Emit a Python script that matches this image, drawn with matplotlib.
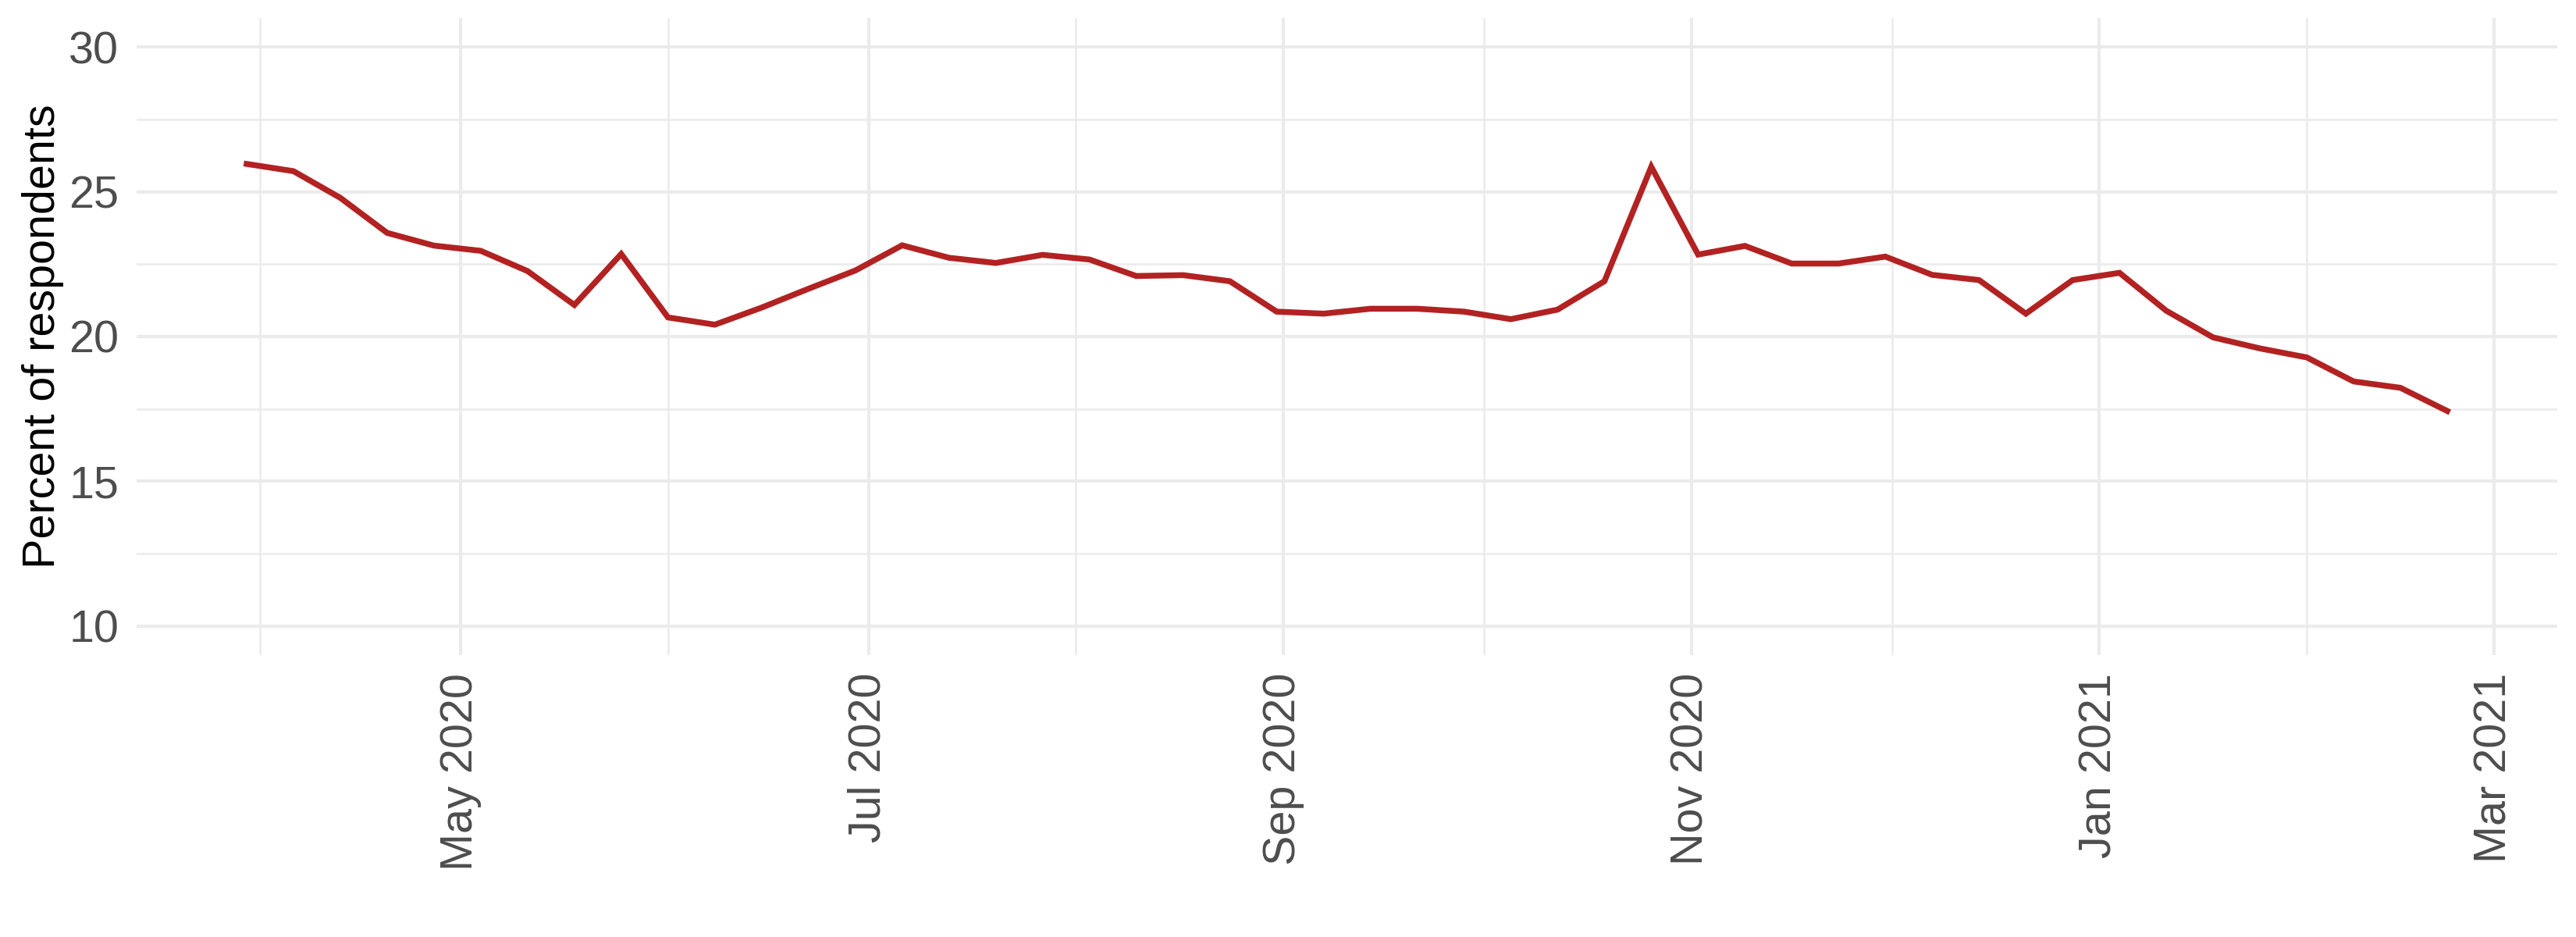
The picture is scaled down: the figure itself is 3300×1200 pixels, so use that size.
import matplotlib
matplotlib.use("Agg")
import matplotlib.pyplot as plt
import pandas as pd

# Weekly survey dates (Mondays) and values
start_date = "2020-03-30"
n_weeks = 48
values = [25.96, 25.71, 24.79, 23.58, 23.14, 22.96, 22.26, 21.09, 22.85, 20.66,
          20.41, 21.00, 21.65, 22.28, 23.15, 22.72, 22.54, 22.82, 22.66, 22.09,
          22.12, 21.91, 20.86, 20.79, 20.96, 20.96, 20.86, 20.60, 20.93, 21.91,
          25.86, 22.83, 23.13, 22.52, 22.52, 22.76, 22.13, 21.95, 20.79, 21.95,
          22.20, 20.89, 19.97, 19.59, 19.28, 18.45, 18.23, 17.43]
dates = pd.date_range(start_date, periods=n_weeks, freq="7D")

y_ticks = [10, 15, 20, 25, 30]
y_minor = [12.5, 17.5, 22.5, 27.5]
x_major = pd.to_datetime(["2020-05-01", "2020-07-01", "2020-09-01",
                          "2020-11-01", "2021-01-01", "2021-03-01"])
x_minor = pd.to_datetime(["2020-04-01", "2020-06-01", "2020-08-01",
                          "2020-10-01", "2020-12-01", "2021-02-01"])
x_labels = ["May 2020", "Jul 2020", "Sep 2020", "Nov 2020", "Jan 2021", "Mar 2021"]
y_label = "Percent of respondents"

plt.rcParams['font.family'] = ['Liberation Sans', 'DejaVu Sans']

W, H = 3300, 1200
left, right, top, bottom = 175, 3276, 23, 839
fig = plt.figure(figsize=(11, 4), dpi=300)
ax = fig.add_axes([left / W, 1 - bottom / H, (right - left) / W, (bottom - top) / H])

ax.plot(dates, values, color="#B22222", linewidth=1.8, solid_joinstyle="miter", zorder=3)

# Limits with 5% expansion as ggplot
dmin, dmax = dates.min(), dates.max()
span = (dmax - dmin) * 0.05
ax.set_xlim(dmin - span, dmax + span)
ax.set_ylim(10 - 1.0, 30 + 1.0)

ax.set_yticks(y_ticks)
ax.set_yticks(y_minor, minor=True)
ax.set_xticks(x_major)
ax.set_xticklabels(x_labels, rotation=90)
ax.set_xticks(x_minor, minor=True)

ax.grid(which="major", color="#EBEBEB", linewidth=1.0, zorder=0)
ax.grid(which="minor", color="#EBEBEB", linewidth=0.6, zorder=0)
ax.set_axisbelow(True)

for s in ax.spines.values():
    s.set_visible(False)
ax.tick_params(axis="both", which="both", length=0)
ax.tick_params(axis="both", which="major", labelsize=13.8, labelcolor="#4D4D4D", pad=5.5)

ax.set_ylabel(y_label, fontsize=13.8, color="black")
ax.yaxis.set_label_coords((82 - left) / (right - left), 0.5)
ax.set_facecolor("white")
fig.patch.set_facecolor("white")

fig.savefig("out.png", dpi=300, facecolor="white")
